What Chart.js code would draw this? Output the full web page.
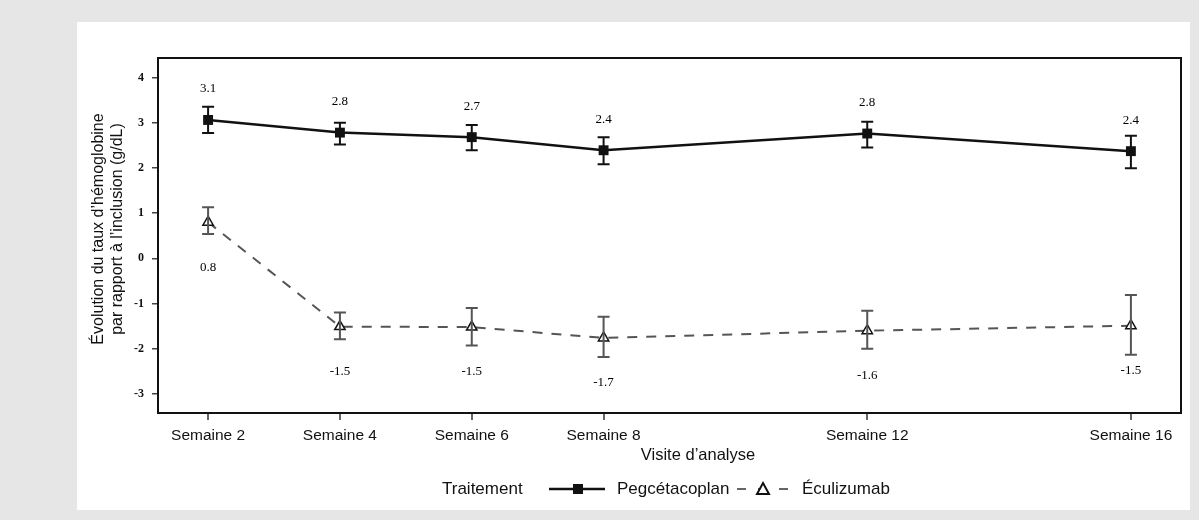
<!DOCTYPE html>
<html>
<head>
<meta charset="utf-8">
<script src="https://cdn.jsdelivr.net/npm/chart.js@4/dist/chart.umd.min.js"></script>
<style>
  body { margin: 0; background: #e6e6e6; }
  #panel { position: absolute; left: 77px; top: 22px; width: 1113px; height: 488px; background: #fff; }
  #chart { position: absolute; left: 0; top: 0; }
</style>
</head>
<body>
<div id="panel"></div>
<canvas id="chart" width="1199" height="520"></canvas>
<script>
const weeks = [2, 4, 6, 8, 12, 16];

const pegMean = [3.06, 2.78, 2.68, 2.39, 2.76, 2.37];
const pegLow = [2.77, 2.52, 2.39, 2.08, 2.45, 1.99];
const pegHigh = [3.35, 3.00, 2.95, 2.68, 3.02, 2.71];
const pegLabels = ['3.1', '2.8', '2.7', '2.4', '2.8', '2.4'];

const ecuMean = [0.80, -1.51, -1.52, -1.76, -1.60, -1.49];
const ecuLow = [0.54, -1.79, -1.93, -2.18, -2.00, -2.13];
const ecuHigh = [1.13, -1.20, -1.10, -1.29, -1.16, -0.81];
const ecuLabels = ['0.8', '-1.5', '-1.5', '-1.7', '-1.6', '-1.5'];

const yTicks = [-3, -2, -1, 0, 1, 2, 3, 4];

const toPoints = (vals) => vals.map((v, i) => ({ x: weeks[i], y: v }));

// error bars, value labels, frame, titles and legend
const extras = {
  id: 'extras',
  afterDatasetsDraw(chart) {
    const ctx = chart.ctx;
    const xs = chart.scales.x, ys = chart.scales.y;

    function bars(low, high, color) {
      ctx.save();
      ctx.strokeStyle = color;
      ctx.lineWidth = 2;
      weeks.forEach((w, i) => {
        const px = xs.getPixelForValue(w);
        const y1 = ys.getPixelForValue(low[i]);
        const y2 = ys.getPixelForValue(high[i]);
        ctx.beginPath();
        ctx.moveTo(px, y1); ctx.lineTo(px, y2);
        ctx.moveTo(px - 6, y1); ctx.lineTo(px + 6, y1);
        ctx.moveTo(px - 6, y2); ctx.lineTo(px + 6, y2);
        ctx.stroke();
      });
      ctx.restore();
    }
    bars(pegLow, pegHigh, '#111');
    bars(ecuLow, ecuHigh, '#555');

    ctx.save();
    ctx.fillStyle = '#000';
    ctx.font = '13px "Liberation Serif"';
    ctx.textAlign = 'center';
    ctx.textBaseline = 'middle';
    weeks.forEach((w, i) => {
      const px = xs.getPixelForValue(w);
      ctx.fillText(pegLabels[i], px, ys.getPixelForValue(pegMean[i]) - 31);
      ctx.fillText(ecuLabels[i], px, ys.getPixelForValue(ecuMean[i]) + 45);
    });
    ctx.restore();
  },
  afterDraw(chart) {
    const ctx = chart.ctx;
    const area = chart.chartArea;
    ctx.save();
    ctx.strokeStyle = '#111';
    ctx.lineWidth = 2;
    ctx.strokeRect(area.left, area.top, area.right - area.left, area.bottom - area.top);

    ctx.fillStyle = '#111';
    ctx.font = '16.5px "Liberation Sans"';
    ctx.textAlign = 'center';
    ctx.textBaseline = 'middle';
    ctx.fillText('Visite d\u2019analyse', 698, 455);

    ctx.save();
    ctx.translate(99, 229);
    ctx.rotate(-Math.PI / 2);
    ctx.font = '16px "Liberation Sans"';
    ctx.fillText('\u00c9volution du taux d\u2019h\u00e9moglobine', 0, 0);
    ctx.fillText('par rapport \u00e0 l\u2019inclusion (g/dL)', 0, 19);
    ctx.restore();

    // legend
    const ly = 489;
    ctx.font = '17px "Liberation Sans"';
    ctx.textAlign = 'left';
    ctx.fillText('Traitement', 442, ly);
    ctx.lineWidth = 2.5;
    ctx.beginPath(); ctx.moveTo(549, ly); ctx.lineTo(605, ly); ctx.stroke();
    ctx.fillRect(573, ly - 5, 10, 10);
    ctx.fillText('Pegc\u00e9tacoplan', 617, ly);
    ctx.strokeStyle = '#666';
    ctx.lineWidth = 2;
    ctx.setLineDash([9, 12]);
    ctx.beginPath(); ctx.moveTo(737, ly); ctx.lineTo(790, ly); ctx.stroke();
    ctx.setLineDash([]);
    ctx.strokeStyle = '#111';
    ctx.fillStyle = '#fff';
    ctx.beginPath();
    ctx.moveTo(763, ly - 6); ctx.lineTo(769, ly + 5); ctx.lineTo(757, ly + 5); ctx.closePath();
    ctx.fill(); ctx.stroke();
    ctx.fillStyle = '#111';
    ctx.fillText('\u00c9culizumab', 802, ly);
    ctx.restore();
  }
};

new Chart(document.getElementById('chart'), {
  type: 'line',
  data: {
    datasets: [{
      label: 'Pegcétacoplan',
      data: toPoints(pegMean),
      borderColor: '#111',
      backgroundColor: '#111',
      borderWidth: 2.5,
      pointStyle: 'rect',
      pointRadius: 7,
      pointBorderWidth: 0,
      tension: 0
    }, {
      label: 'Éculizumab',
      data: toPoints(ecuMean),
      borderColor: '#555',
      borderDash: [10, 9],
      borderWidth: 2,
      backgroundColor: '#fff',
      pointStyle: 'triangle',
      pointRadius: 6,
      pointBorderColor: '#111',
      pointBorderWidth: 1.5,
      tension: 0
    }]
  },
  options: {
    responsive: false,
    animation: false,
    layout: { padding: { left: 108, right: 18, top: 58, bottom: 0 } },
    plugins: { legend: { display: false }, tooltip: { enabled: false } },
    scales: {
      x: {
        type: 'linear',
        min: 1.24,
        max: 16.76,
        afterBuildTicks: (scale) => { scale.ticks = weeks.map(v => ({ value: v })); },
        afterFit: (scale) => { scale.height = 107; },
        border: { display: false },
        grid: { drawOnChartArea: false, tickLength: 7, color: '#666', lineWidth: 2 },
        ticks: {
          callback: (v) => 'Semaine ' + v,
          color: '#111',
          padding: 6,
          maxRotation: 0,
          font: { family: 'Liberation Sans', size: 15.5 }
        }
      },
      y: {
        min: -3.42,
        max: 4.43,
        afterBuildTicks: (scale) => { scale.ticks = yTicks.map(v => ({ value: v })); },
        afterFit: (scale) => { scale.width = 50; },
        border: { display: false },
        grid: { drawOnChartArea: false, tickLength: 6, color: '#444', lineWidth: 1.5 },
        ticks: {
          color: '#111',
          padding: 8,
          font: { family: 'Liberation Serif', size: 12, weight: 'bold' }
        }
      }
    }
  },
  plugins: [extras]
});
</script>
</body>
</html>
